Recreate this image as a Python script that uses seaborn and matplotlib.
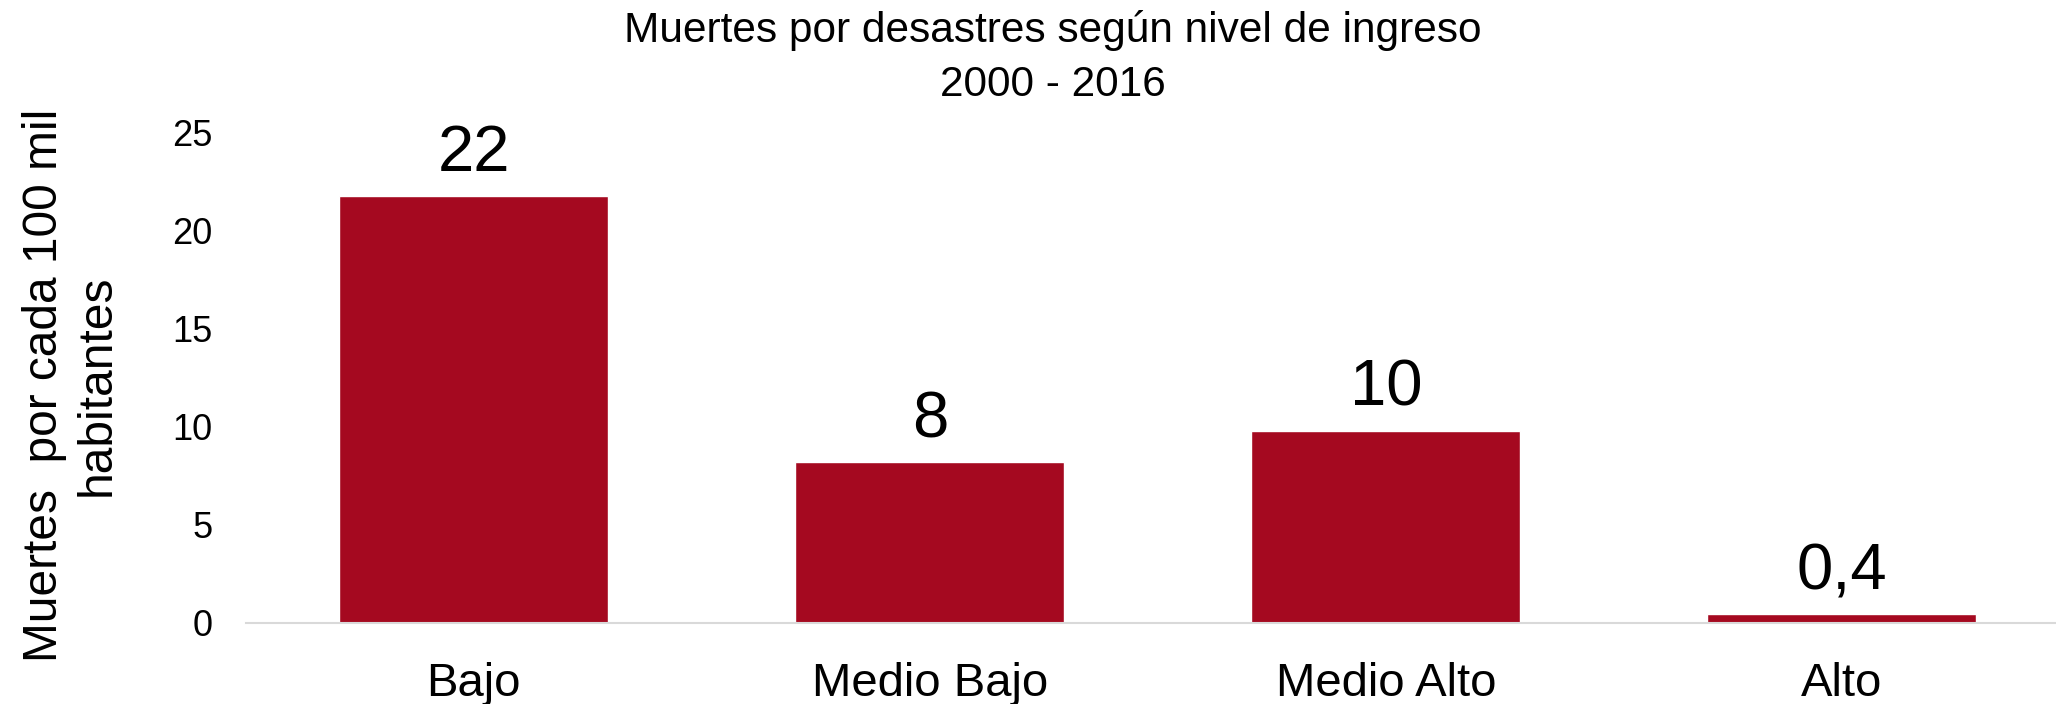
import matplotlib
matplotlib.use("Agg")
import matplotlib.pyplot as plt
import seaborn as sns
import pandas as pd

# values
niveles = ["Bajo", "Medio Bajo", "Medio Alto", "Alto"]
muertes = [21.8, 8.2, 9.8, 0.43]
etiquetas = ["22", "8", "10", "0,4"]
yticks = [0, 5, 10, 15, 20, 25]

color_barra = "#A50920"

sns.set_theme(style="white")
plt.rcParams["font.family"] = ["Liberation Sans", "DejaVu Sans"]

df = pd.DataFrame({"nivel": niveles, "muertes": muertes})

fig = plt.figure(figsize=(20.56, 7.04), dpi=100)
ax = fig.add_axes([0.1196, 0.1155, 1 - 0.1196, 0.6956])

sns.barplot(data=df, x="nivel", y="muertes", color=color_barra,
            saturation=1, width=0.59, ax=ax)

# data labels on top of each bar
for i, (v, txt) in enumerate(zip(muertes, etiquetas)):
    ax.annotate(txt, (i, v), xytext=(0, 18), textcoords="offset points",
                ha="center", va="baseline", fontsize=47, color="black")

ax.set_xlim(-0.5, 3.47)
ax.set_ylim(0, 25)
ax.set_yticks(yticks)
ax.set_yticklabels([str(t) for t in yticks])
ax.set_xlabel("")
ax.set_ylabel("")

for s in ["top", "right", "left"]:
    ax.spines[s].set_visible(False)
ax.spines["bottom"].set_color("#D9D9D9")
ax.spines["bottom"].set_linewidth(1.5)

ax.tick_params(axis="y", length=0, pad=24, labelsize=26, labelcolor="black")
ax.tick_params(axis="x", length=0, pad=28, labelsize=34, labelcolor="black")

fig.text(71 / 2056, 0.453, "Muertes  por cada 100 mil\nhabitantes", rotation=90,
         ha="center", va="center", multialignment="center", fontsize=34.5,
         linespacing=1.2, color="black")

fig.text(0.512, 0.941, "Muertes por desastres según nivel de ingreso",
         ha="center", va="baseline", fontsize=30.5, color="black")
fig.text(0.512, 0.863, "2000 - 2016",
         ha="center", va="baseline", fontsize=30.5, color="black")

fig.savefig("out.png", dpi=100)
